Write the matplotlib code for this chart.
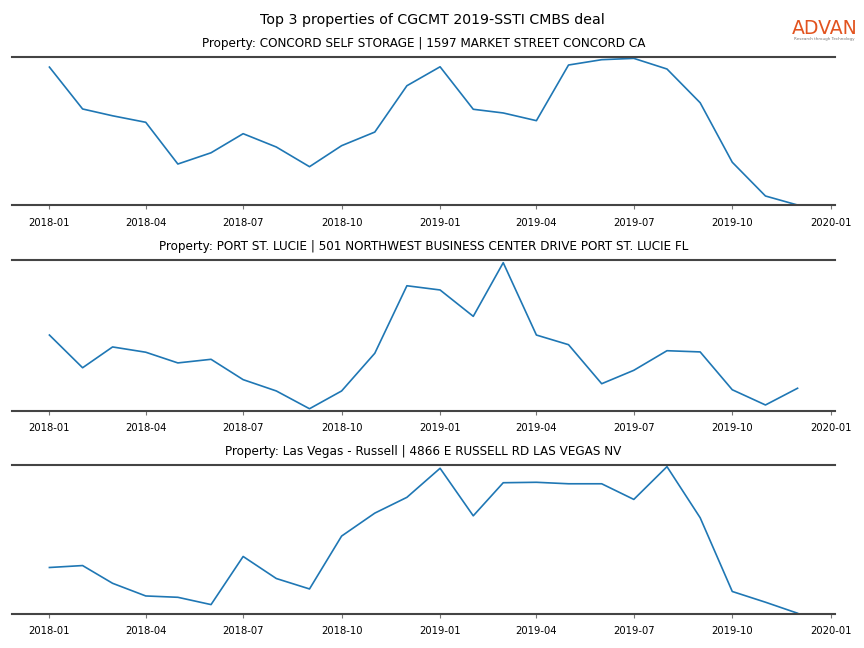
import matplotlib
matplotlib.use("Agg")
import matplotlib.pyplot as plt
import pandas as pd

# monthly index values (relative scale, no y axis shown in the original)
months = pd.date_range("2018-01-01", periods=24, freq="MS")

titles = [
    "Property: CONCORD SELF STORAGE | 1597 MARKET STREET CONCORD CA",
    "Property: PORT ST. LUCIE | 501 NORTHWEST BUSINESS CENTER DRIVE PORT ST. LUCIE FL",
    "Property: Las Vegas - Russell | 4866 E RUSSELL RD LAS VEGAS NV",
]

concord = [93.2, 64.9, 60.3, 55.9, 27.7, 35.3, 48.2, 39.2, 25.9, 40.1, 49.3, 80.6,
           93.4, 64.7, 62.2, 57.0, 94.6, 98.2, 99.1, 91.9, 69.1, 28.9, 6.1, 0.0]
port_st_lucie = [50.2, 28.5, 42.3, 38.8, 31.7, 34.1, 20.6, 13.1, 1.3, 13.1, 38.1, 82.9,
                 80.1, 62.6, 98.2, 50.2, 43.8, 17.9, 26.8, 39.8, 39.0, 13.9, 3.8, 14.9]
las_vegas = [31.2, 32.5, 20.6, 12.1, 11.2, 6.3, 38.6, 23.8, 16.8, 52.3, 67.7, 78.3,
             97.8, 65.9, 88.1, 88.4, 87.4, 87.4, 76.9, 98.9, 64.6, 15.1, 7.9, 0.5]

series = [concord, port_st_lucie, las_vegas]

fig = plt.figure(figsize=(8.64, 6.48), dpi=100)
fig.suptitle("Top 3 properties of CGCMT 2019-SSTI CMBS deal", fontsize=10.2, y=0.98)

# axes rectangles: left, bottom, width, height
boxes = [
    [0.0139, 0.6836, 0.9525, 0.2284],
    [0.0139, 0.3662, 0.9525, 0.2326],
    [0.0139, 0.0525, 0.9525, 0.2299],
]

for box, title, vals in zip(boxes, titles, series):
    ax = fig.add_axes(box)
    ax.plot(months, vals, color="#1f77b4", linewidth=1.2)
    ax.set_ylim(0, 100)
    ax.set_title(title, fontsize=8.65, pad=7.5)
    for s in ["left", "right"]:
        ax.spines[s].set_visible(False)
    for s in ["top", "bottom"]:
        ax.spines[s].set_linewidth(1.5)
        ax.spines[s].set_color("#444444")
    ax.set_yticks([])
    ax.tick_params(axis="x", labelsize=7.2, length=3, color="#777777", pad=6)

# logo
fig.text(0.9543, 0.956, "ADVAN", color="#e2531f", fontsize=13.6, ha="center", va="center")
fig.text(0.9543, 0.9405, "Research through Technology", color="#777777", fontsize=3,
         ha="center", va="center")

plt.savefig("out.png", dpi=100)
